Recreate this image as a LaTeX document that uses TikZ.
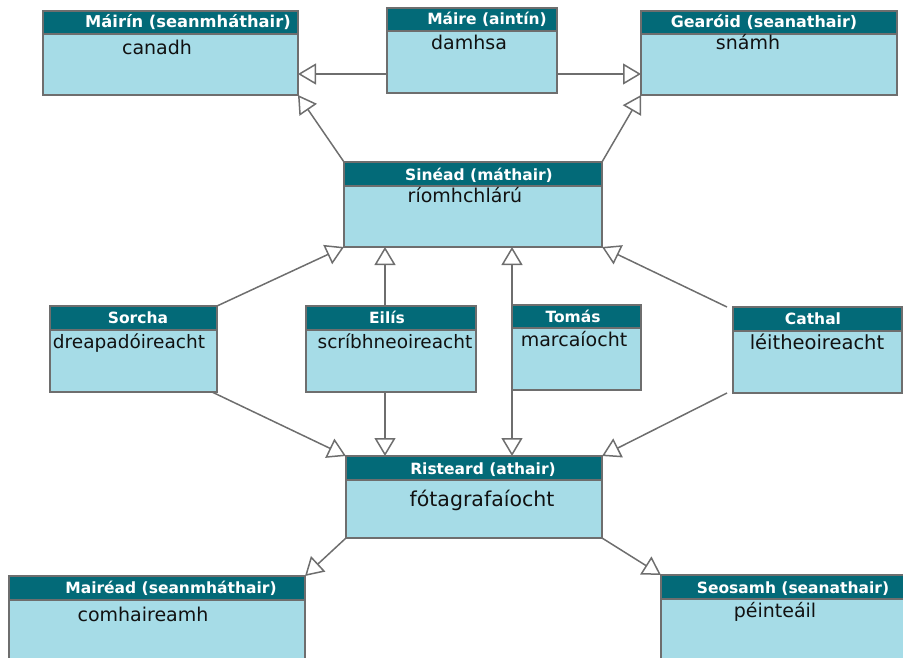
\documentclass[tikz,border=0pt]{standalone}
\usepackage{fontspec}
\setmainfont{DejaVu Sans}
\usepackage{xcolor}
\usetikzlibrary{calc,arrows.meta}
\definecolor{headbg}{HTML}{036A78}
\definecolor{bodybg}{HTML}{A6DCE7}
\definecolor{edge}{HTML}{6E6E6E}
\definecolor{ink}{HTML}{111111}
\tikzset{
  klass/.style={draw=edge, fill=bodybg, line width=1.7pt, anchor=north west, outer sep=0pt, inner sep=0pt},
  head/.style={draw=edge, fill=headbg, line width=1.7pt, anchor=north west, outer sep=0pt, inner sep=0pt},
  headtxt/.style={text=white, font=\fontsize{15.5}{18}\selectfont\bfseries, anchor=base, inner sep=0pt},
  bodytxt/.style={text=ink, font=\fontsize{19}{22}\selectfont, anchor=base, inner sep=0pt},
  inh/.style={draw=edge, line width=1.5pt, -{Triangle[open, length=18pt, width=21pt, fill=white]}},
}

\begin{document}
\begin{tikzpicture}[x=1pt, y=-1pt]
  \useasboundingbox (0,0) rectangle (903,658);
  % top row
  \node[klass, minimum width=255pt, minimum height=84pt] (mairin) at (43,11) {};
  \node[head, minimum width=255pt, minimum height=23pt] (mairin-h) at (43,11) {};
  \node[headtxt, font=\fontsize{16.3}{19}\selectfont\bfseries] (mairin-t) at (188,28) {Máirín (seanmháthair)};
  \node[bodytxt] (mairin-b) at (157,55) {canadh};

  \node[klass, minimum width=170pt, minimum height=85pt] (maire) at (387,8) {};
  \node[head, minimum width=170pt, minimum height=23pt] (maire-h) at (387,8) {};
  \node[headtxt] (maire-t) at (487,25) {Máire (aintín)};
  \node[bodytxt] (maire-b) at (469,50) {damhsa};

  \node[klass, minimum width=256pt, minimum height=84pt] (gearoid) at (641,11) {};
  \node[head, minimum width=256pt, minimum height=23pt] (gearoid-h) at (641,11) {};
  \node[headtxt, font=\fontsize{15.9}{19}\selectfont\bfseries] (gearoid-t) at (764,28) {Gearóid (seanathair)};
  \node[bodytxt] (gearoid-b) at (748,50) {snámh};

  % mother
  \node[klass, minimum width=258pt, minimum height=85pt] (sinead) at (344,162) {};
  \node[head, minimum width=258pt, minimum height=24pt] (sinead-h) at (344,162) {};
  \node[headtxt] (sinead-t) at (479,181) {Sinéad (máthair)};
  \node[bodytxt] (sinead-b) at (465,203) {ríomhchlárú};

  % children
  \node[klass, minimum width=167pt, minimum height=86pt] (sorcha) at (50,306) {};
  \node[head, minimum width=167pt, minimum height=24pt] (sorcha-h) at (50,306) {};
  \node[headtxt] (sorcha-t) at (138,323) {Sorcha};
  \node[bodytxt, font=\fontsize{18.5}{22}\selectfont] (sorcha-b) at (129,348) {dreapadóireacht};

  \node[klass, minimum width=170pt, minimum height=86pt] (eilis) at (306,306) {};
  \node[head, minimum width=170pt, minimum height=24pt] (eilis-h) at (306,306) {};
  \node[headtxt] (eilis-t) at (387,323) {Eilís};
  \node[bodytxt, font=\fontsize{18.5}{22}\selectfont] (eilis-b) at (395,348) {scríbhneoireacht};

  \node[klass, minimum width=129pt, minimum height=85pt] (tomas) at (512,305) {};
  \node[head, minimum width=129pt, minimum height=23pt] (tomas-h) at (512,305) {};
  \node[headtxt] (tomas-t) at (573,322) {Tomás};
  \node[bodytxt] (tomas-b) at (574,346) {marcaíocht};

  \node[klass, minimum width=169pt, minimum height=86pt] (cathal) at (733,307) {};
  \node[head, minimum width=169pt, minimum height=24pt] (cathal-h) at (733,307) {};
  \node[headtxt] (cathal-t) at (813,324) {Cathal};
  \node[bodytxt, font=\fontsize{19.5}{23}\selectfont] (cathal-b) at (817,349) {léitheoireacht};

  % father
  \node[klass, minimum width=256pt, minimum height=82pt] (risteard) at (346,456) {};
  \node[head, minimum width=256pt, minimum height=24pt] (risteard-h) at (346,456) {};
  \node[headtxt] (risteard-t) at (483,474) {Risteard (athair)};
  \node[bodytxt, font=\fontsize{20.5}{24}\selectfont] (risteard-b) at (482,506) {fótagrafaíocht};

  % bottom row
  \node[klass, minimum width=296pt, minimum height=110pt] (mairead) at (9,576) {};
  \node[head, minimum width=296pt, minimum height=24pt] (mairead-h) at (9,576) {};
  \node[headtxt] (mairead-t) at (171,593) {Mairéad (seanmháthair)};
  \node[bodytxt] (mairead-b) at (143,621) {comhaireamh};

  \node[klass, minimum width=260pt, minimum height=110pt] (seosamh) at (661,575) {};
  \node[head, minimum width=260pt, minimum height=24pt] (seosamh-h) at (661,575) {};
  \node[headtxt] (seosamh-t) at (793,593) {Seosamh (seanathair)};
  \node[bodytxt] (seosamh-b) at (775,617) {péinteáil};

  % inheritance
  \draw[inh] ([yshift=-23.5pt]maire.west) -- ([yshift=-21pt]mairin.east);
  \draw[inh] ([yshift=-23.5pt]maire.east) -- ([yshift=-21pt]gearoid.west);
  \draw[inh] (sinead.north west) -- (mairin.south east);
  \draw[inh] (sinead.north east) -- (gearoid.south west);
  \draw[inh] (sorcha.north east) -- (sinead.south west);
  \draw[inh] ([xshift=-6pt]eilis.north) -- ([xshift=-6pt]eilis.north |- sinead.south);
  \draw[inh] (tomas.north west) -- (tomas.north west |- sinead.south);
  \draw[inh] ([xshift=-6pt]cathal.north west) -- (sinead.south east);
  \draw[inh] ([xshift=-5pt]sorcha.south east) -- (risteard.north west);
  \draw[inh] ([xshift=-6pt]eilis.south) -- ([xshift=-6pt]eilis.south |- risteard.north);
  \draw[inh] (tomas.south west) -- (tomas.south west |- risteard.north);
  \draw[inh] ([xshift=-6pt]cathal.south west) -- (risteard.north east);
  \draw[inh] (risteard.south west) -- (mairead.north east);
  \draw[inh] (risteard.south east) -- (seosamh.north west);
\end{tikzpicture}
\end{document}
